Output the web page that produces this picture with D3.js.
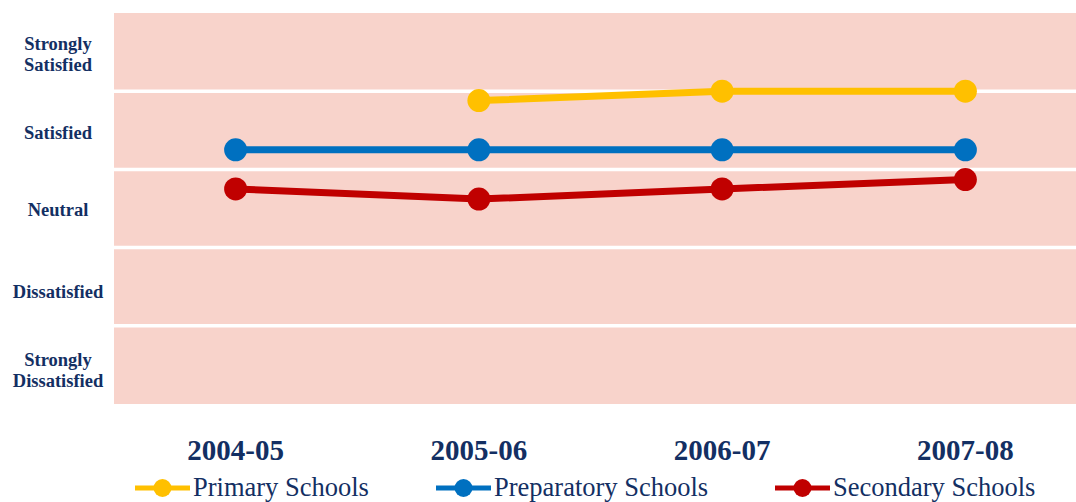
<!DOCTYPE html>
<html><head><meta charset="utf-8">
<script src="https://cdn.jsdelivr.net/npm/d3@7"></script>
<style>html,body{margin:0;padding:0;background:#fff;overflow:hidden}</style>
</head><body>
<svg id="c" width="1076" height="502"></svg>
<script>
const categories = ["2004-05","2005-06","2006-07","2007-08"];
const levelLabels = [["Strongly","Satisfied"],["Satisfied"],["Neutral"],["Dissatisfied"],["Strongly","Dissatisfied"]];
const levelLabelValues = [4.47,3.47,2.48,1.43,0.43];
const gridValues = [1,2,3,4];
const primary = [null,3.88,4.0,4.0];
const preparatory = [3.25,3.25,3.25,3.25];
const secondary = [2.75,2.62,2.75,2.87];
const seriesNames = ["Primary Schools","Preparatory Schools","Secondary Schools"];
const seriesColors = ["#FFC000","#0070C0","#C00000"];

(function(){
const svg = d3.select("#c");
const pLeft=114, pRight=1087, pTop=13, pBottom=404;
const x = d3.scalePoint().domain(categories).range([pLeft,pRight]).padding(0.5);
const y = d3.scaleLinear().domain([0,5]).range([pBottom,pTop]);
const navy="#132f63";
const serif="'Liberation Serif','Times New Roman',serif";

svg.append("rect").attr("x",pLeft).attr("y",y(5)).attr("width",pRight-pLeft).attr("height",y(0)-y(5)).attr("fill","#F8D3CB");
svg.selectAll("line.grid").data(gridValues).enter().append("line")
  .attr("x1",pLeft).attr("x2",pRight).attr("y1",d=>y(d)).attr("y2",d=>y(d))
  .attr("stroke","#fff").attr("stroke-width",3.5);

const yl = svg.selectAll("text.yl").data(levelLabels).enter().append("text")
  .attr("text-anchor","middle").attr("font-family",serif)
  .attr("font-weight","bold").attr("font-size",18.5).attr("fill",navy);
yl.each(function(lines,i){
  const t=d3.select(this);
  const lh=20.5;
  const cy=y(levelLabelValues[i]);
  const first = cy - (lines.length-1)*lh/2 + 6;
  lines.forEach((s,j)=>t.append("tspan").attr("x",58).attr("y",first+j*lh).text(s));
});

svg.selectAll("text.xl").data(categories).enter().append("text")
  .attr("x",d=>x(d)).attr("y",460).attr("text-anchor","middle")
  .attr("font-family",serif).attr("font-weight","bold")
  .attr("font-size",29).attr("fill",navy).text(d=>d);

const series=[primary,preparatory,secondary];
const line=d3.line().defined(d=>d.v!=null).x(d=>x(d.c)).y(d=>y(d.v));
series.forEach((vals,i)=>{
  const pts=vals.map((v,j)=>({c:categories[j],v}));
  svg.append("path").datum(pts).attr("d",line).attr("fill","none")
    .attr("stroke",seriesColors[i]).attr("stroke-width",7);
  svg.selectAll(null).data(pts.filter(p=>p.v!=null)).enter().append("circle")
    .attr("cx",p=>x(p.c)).attr("cy",p=>y(p.v)).attr("r",11.5).attr("fill",seriesColors[i]);
});

const legX=[135,436,775];
seriesNames.forEach((n,i)=>{
  const g=svg.append("g").attr("transform",`translate(${legX[i]},488)`);
  g.append("line").attr("x1",0).attr("x2",55).attr("stroke",seriesColors[i]).attr("stroke-width",5);
  g.append("circle").attr("cx",27.5).attr("r",9).attr("fill",seriesColors[i]);
  g.append("text").attr("x",58).attr("y",7.5).attr("font-family",serif)
    .attr("font-size",26.5).attr("fill",navy).text(n);
});
})();
</script>
</body></html>
